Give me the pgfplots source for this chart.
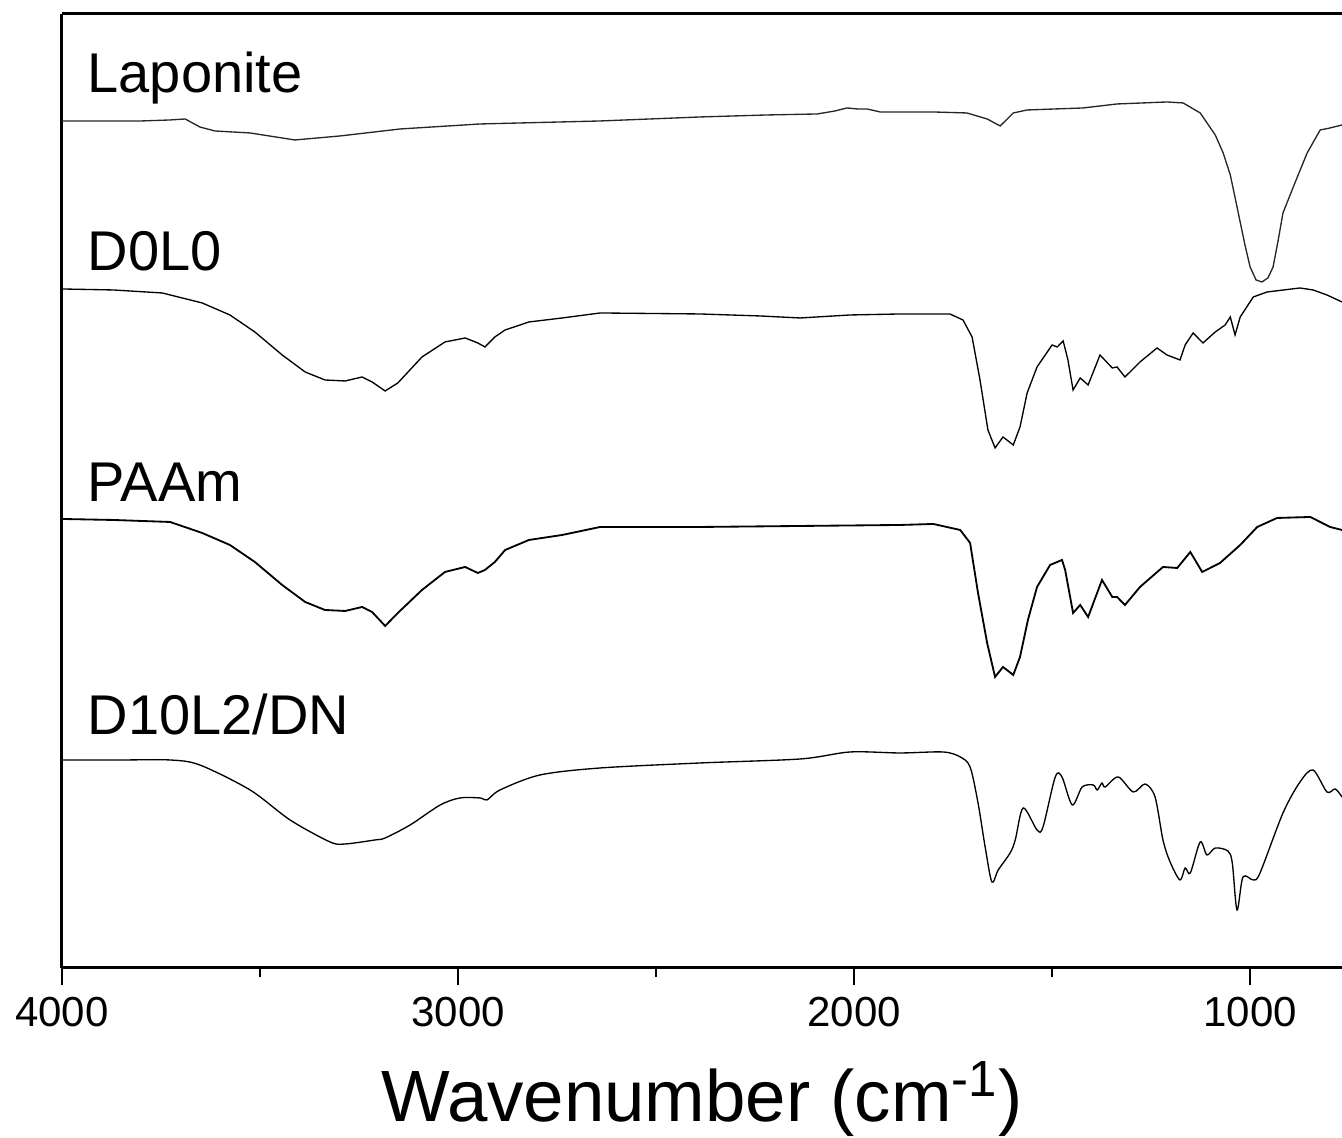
\documentclass[border=0pt]{standalone}
\usepackage{fontspec}
\setmainfont{Liberation Sans}
\usepackage{pgfplots}
\pgfplotsset{compat=1.18}
\begin{document}
\begin{tikzpicture}
\begin{axis}[
  at={(0,0)}, anchor=south west,
  scale only axis, width=384pt, height=286.2pt,
  x dir=reverse, xmin=768, xmax=4000,
  ymin=0, ymax=954,
  axis x line=bottom, axis y line=left,
  axis line style={-, line width=0.9pt},
  xtick={1000,2000,3000,4000},
  minor xtick={1500,2500,3500},
  ytick=\empty,
  tick align=outside,
  major tick length=5.2pt, minor tick length=2.8pt,
  every tick/.style={black, line width=0.7pt},
  /pgf/number format/assume math mode=true,
  /pgf/number format/1000 sep={},
  xticklabel style={font=\fontsize{12.6}{15}\selectfont},
  xlabel={Wavenumber (cm\textsuperscript{-1})},
  xlabel style={font=\fontsize{21.8}{24}\selectfont, at={(axis description cs:0.5,0)}, anchor=base, yshift=-46.2pt},
  cycle list={{black!85, mark=none, line width=0.55pt, smooth, tension=0.5}},
]
% Laponite
\addplot coordinates {
(4000,847)(3800,847)(3727,848)(3689,849)(3652,841)(3614,837)(3525,835)(3412,828)(3298,832)
(3146,839)(2944,844)(2641,847)(2389,851)(2220,853)(2093,854)(2048,857)(2018,860)
(1992,859)(1967,859)(1934,856)(1800,856)(1715,855)(1664,849)(1631,842)(1598,855)
(1563,858)(1422,860)(1336,864)(1210,866)(1169,865)(1126,855)(1088,833)(1068,815)(1050,793)(1033,761)
(1013,723)(1000,701)(985,688)(970,686)(955,690)(942,701)(929,728)(917,755)(891,781)(856,815)(823,838)(798,840)(768,843)
};
% D0L0
\addplot coordinates {
(4000,679)(3870,678)(3747,675)(3646,665)(3576,653)(3513,636)(3444,613)(3386,596)(3336,588)(3285,587)
(3242,591)(3217,586)(3184,577)(3152,585)
(3091,611)(3033,626)(2982,630)(2950,625)(2932,621)(2907,631)(2881,638)(2821,646)(2737,650)(2641,655)
(2389,654)(2237,652)(2136,650)(2010,653)(1884,654)(1758,654)(1725,648)(1702,631)
(1682,588)(1662,538)(1644,520)(1624,531)(1598,523)(1581,541)(1563,575)(1538,601)
(1500,623)(1487,621)(1472,627)(1460,608)(1447,578)(1429,590)(1409,583)(1379,613)
(1348,600)(1336,601)(1316,591)(1278,606)(1235,620)(1210,613)(1177,608)(1164,623)
(1144,635)(1119,625)(1088,636)(1063,643)(1050,651)(1038,633)(1025,651)(992,671)
(957,676)(874,680)(841,678)(806,673)(768,666)
};
% PAAm
\addplot coordinates {
(4000,449)(3870,448)(3727,446)(3646,435)(3576,423)(3513,406)(3444,383)(3386,366)(3336,358)(3285,357)
(3242,361)(3217,356)(3184,342)(3152,355)
(3091,378)(3033,396)(2982,401)(2950,395)(2932,398)(2907,406)(2881,418)(2821,428)(2737,433)(2641,441)
(2389,441)(2136,442)(1884,443)(1800,444)(1732,438)(1707,425)(1687,375)(1664,325)
(1644,291)(1624,301)(1598,293)(1581,311)(1561,348)(1538,381)(1505,403)(1475,408)
(1467,398)(1447,355)(1429,363)(1409,351)(1374,388)(1348,371)(1336,371)(1316,363)
(1278,381)(1220,401)(1184,400)(1151,416)(1121,396)(1076,405)(1025,423)(982,441)
(932,450)(848,451)(798,441)(768,438)
};
% D10L2/DN
\addplot coordinates {
(4000,208)(3850,208)(3727,208)(3652,203)(3525,178)(3424,148)(3323,126)(3285,124)(3210,128)
(3184,130)(3121,143)(3045,163)(2995,170)(2944,170)(2927,168)(2894,178)(2793,193)
(2641,200)(2389,205)(2136,209)(2010,216)(1884,215)(1775,216)(1732,211)(1707,201)
(1687,165)(1669,121)(1652,86)(1636,98)(1606,115)(1593,128)(1573,160)(1538,138)
(1523,141)(1492,191)(1475,191)(1449,163)(1424,181)(1396,183)(1386,178)(1374,185)
(1366,181)(1333,191)(1295,176)(1265,184)(1240,171)(1220,128)(1202,106)(1177,88)
(1164,100)(1151,95)(1126,126)(1109,113)(1088,120)(1056,117)(1045,105)(1033,58)
(1018,91)(992,88)(975,95)(917,155)(874,186)(841,198)(806,176)(785,179)(768,171)
};
\node[anchor=base west, inner sep=0pt, font=\fontsize{16.8}{19}\selectfont] at (axis cs:3937,875) {Laponite};
\node[anchor=base west, inner sep=0pt, font=\fontsize{16.8}{19}\selectfont] at (axis cs:3937,697) {D0L0};
\node[anchor=base west, inner sep=0pt, font=\fontsize{16.8}{19}\selectfont] at (axis cs:3937,466) {PAAm};
\node[anchor=base west, inner sep=0pt, font=\fontsize{16.8}{19}\selectfont] at (axis cs:3937,233) {D10L2/DN};
\end{axis}
\draw[line width=0.9pt] (0,286.2pt) -- (390pt,286.2pt);
\pgfresetboundingbox
\path (-18.6pt,-51pt) rectangle (384pt,290.4pt);
\end{tikzpicture}
\end{document}
